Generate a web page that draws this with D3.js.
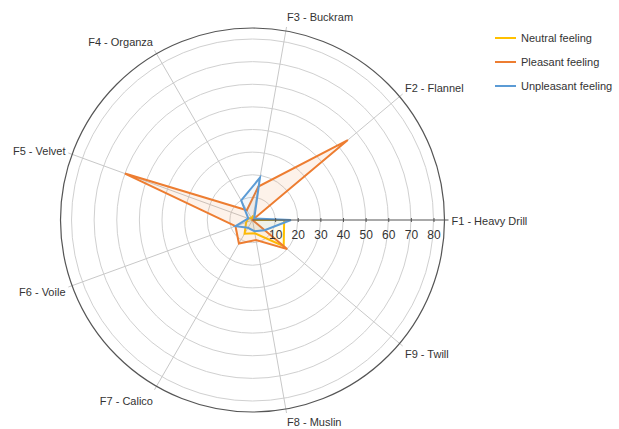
<!DOCTYPE html>
<html>
<head>
<meta charset="utf-8">
<script src="https://cdn.jsdelivr.net/npm/d3@7"></script>
<style>
  html, body { margin: 0; padding: 0; background: #fff; }
  svg { display: block; font-family: "Liberation Sans", Arial, sans-serif; }
</style>
</head>
<body>
<svg id="chart" width="619" height="429"></svg>
<script>
// Fabric axes, starting at the right and running counter-clockwise
const fabrics = ["F1 - Heavy Drill", "F2 - Flannel", "F3 - Buckram", "F4 - Organza",
  "F5 - Velvet", "F6 - Voile", "F7 - Calico", "F8 - Muslin", "F9 - Twill"];

const seriesNames = ["Neutral feeling", "Pleasant feeling", "Unpleasant feeling"];
const seriesColors = ["#FFC000", "#ED7D31", "#5B9BD5"];

const neutral    = [14, 0, 2, 1, 2, 3, 7, 6, 18];
const pleasant   = [0, 55, 15, 5, 60, 8, 12, 9, 20];
const unpleasant = [17, 1, 19, 10, 2, 8, 4, 5, 7];

const radialTicks = [10, 20, 30, 40, 50, 60, 70, 80];

const svg = d3.select("#chart");
const cx = 252.5, cy = 220;
const ringMax = 80, ringR = 181;   // radius of the 80 ring
const frameR = 192;                // outer border circle
const spokeR = 196, labelR = 199;

const r = d3.scaleLinear().domain([0, ringMax]).range([0, ringR]);
const angle = d3.scaleBand().domain(fabrics).range([0, 2 * Math.PI]);
const theta = d => angle(d);  // counter-clockwise from the right

const pt = (a, rad) => [cx + rad * Math.cos(a), cy - rad * Math.sin(a)];

const g = svg.append("g");

// concentric grid rings
g.selectAll("circle.ring").data(radialTicks).join("circle")
  .attr("class", "ring")
  .attr("cx", cx).attr("cy", cy).attr("r", d => r(d))
  .attr("fill", "none").attr("stroke", "#d0d0d0").attr("stroke-width", 1);

// spokes
g.selectAll("line.spoke").data(fabrics.slice(1)).join("line")
  .attr("class", "spoke")
  .attr("x1", cx).attr("y1", cy)
  .attr("x2", d => pt(theta(d), spokeR)[0])
  .attr("y2", d => pt(theta(d), spokeR)[1])
  .attr("stroke", "#c8c8c8").attr("stroke-width", 1);

// outer frame
g.append("circle").attr("cx", cx).attr("cy", cy).attr("r", frameR)
  .attr("fill", "none").attr("stroke", "#555").attr("stroke-width", 1.2);

// series polygons
const seriesData = [neutral, pleasant, unpleasant];
const line = d3.lineRadial()
  .angle((d, i) => Math.PI / 2 - theta(fabrics[i]))
  .radius(d => r(d))
  .curve(d3.curveLinearClosed);

const fills = ["rgba(255,192,0,0.07)", "rgba(237,125,49,0.1)", "rgba(91,155,213,0.09)"];
const plot = g.append("g").attr("transform", `translate(${cx},${cy})`);
seriesData.forEach((vals, k) => {
  plot.append("path")
    .attr("d", line(vals))
    .attr("fill", fills[k])
    .attr("stroke", seriesColors[k])
    .attr("stroke-width", 2)
    .attr("stroke-linejoin", "miter");
});

// radial axis along the first spoke, drawn with d3.axisBottom
const axisG = g.append("g").attr("transform", `translate(${cx},${cy})`)
  .call(d3.axisBottom(r).tickValues(radialTicks).tickSize(4).tickSizeOuter(0));
axisG.select(".domain").remove();
axisG.append("line").attr("x1", 0).attr("x2", spokeR).attr("y1", 0).attr("y2", 0)
  .attr("stroke", "#555").attr("stroke-width", 1);
axisG.selectAll(".tick line").attr("stroke", "#555").attr("y1", -2).attr("y2", 2);
axisG.selectAll(".tick text")
  .attr("y", 10).attr("dy", "0.71em")
  .attr("fill", "#333").attr("font-size", 12)
  .attr("font-family", "Liberation Sans, Arial, sans-serif");

// category labels
g.selectAll("text.cat").data(fabrics).join("text")
  .attr("class", "cat")
  .attr("x", d => pt(theta(d), labelR)[0])
  .attr("y", d => Math.min(422, pt(theta(d), labelR)[1] - Math.sin(theta(d)) * 8 + 1.5))
  .attr("dy", "0.35em")
  .attr("text-anchor", d => Math.cos(theta(d)) >= -0.01 ? "start" : "end")
  .attr("fill", "#333").attr("font-size", 11)
  .text(d => d);

// legend
const legend = svg.append("g").attr("transform", "translate(495,38)");
seriesNames.forEach((name, i) => {
  const row = legend.append("g").attr("transform", `translate(0,${i * 24})`);
  row.append("line").attr("x1", 0).attr("x2", 21).attr("y1", 0).attr("y2", 0)
    .attr("stroke", seriesColors[i]).attr("stroke-width", 2);
  row.append("text").attr("x", 26).attr("y", 0).attr("dy", "0.35em")
    .attr("fill", "#333").attr("font-size", 11).text(name);
});
</script>
</body>
</html>
